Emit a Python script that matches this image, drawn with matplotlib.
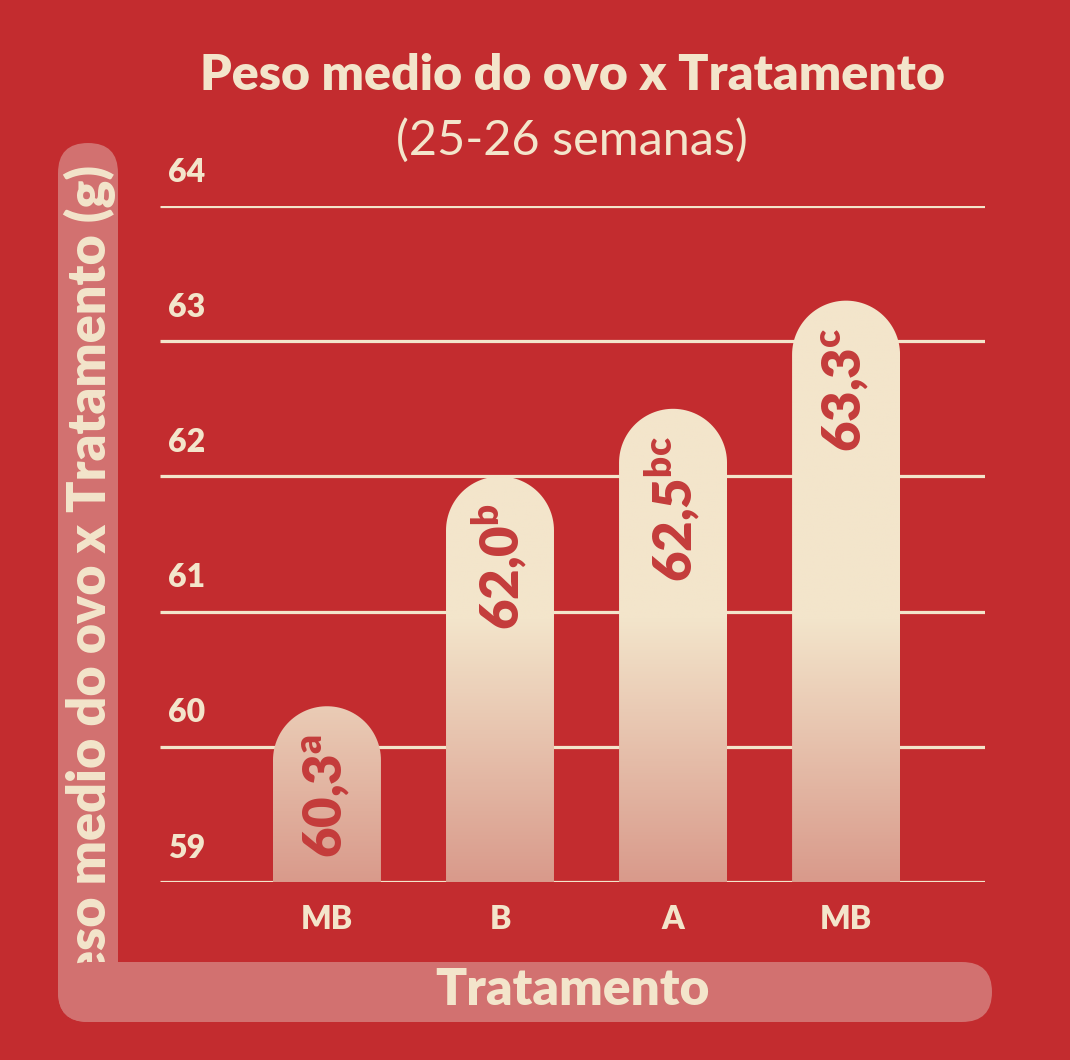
import numpy as np
import matplotlib
matplotlib.use('Agg')
import matplotlib.pyplot as plt
from matplotlib.patches import FancyBboxPatch, PathPatch
from matplotlib.path import Path
from matplotlib.colors import LinearSegmentedColormap

plt.rcParams['font.family'] = ['Lato', 'DejaVu Sans']
plt.rcParams['mathtext.default'] = 'regular'

# data
tratamentos = ['MB', 'B', 'A', 'MB']
peso = [60.3, 62.0, 62.5, 63.3]
letras = ['a', 'b', 'bc', 'c']
yticks = [59, 60, 61, 62, 63, 64]

bg = '#C32C2F'
cream = '#F3E5CB'
band = '#D27170'
txt_red = '#C43C3B'
pink = '#D99A8B'

W, H = 1070, 1060
fig = plt.figure(figsize=(W / 100, H / 100), dpi=100)
fig.patch.set_facecolor(bg)

# pixel canvas for the decorations (L-shaped band, axis titles)
deco = fig.add_axes([0, 0, 1, 1], zorder=0)
deco.set_xlim(0, W)
deco.set_ylim(H, 0)
deco.axis('off')

deco.add_patch(FancyBboxPatch((58, 143), 60, 879, boxstyle='round,pad=0,rounding_size=30',
                              fc=band, ec='none', zorder=1))
deco.add_patch(FancyBboxPatch((58, 962), 934, 60, boxstyle='round,pad=0,rounding_size=30',
                              fc=band, ec='none', zorder=5))
deco.text(90, 165, 'Peso medio do ovo x Tratamento (g)', rotation=90, rotation_mode='anchor',
          ha='right', va='center', fontsize=37.5, fontweight='heavy', color=cream, zorder=3)
deco.text(572, 990, 'Tratamento', ha='center', va='center', fontsize=37,
          fontweight='heavy', color=cream, zorder=6)
deco.text(572, 75, 'Peso medio do ovo x Tratamento', ha='center', va='center', fontsize=36,
          fontweight='heavy', color=cream)
deco.text(572, 140, '(25-26 semanas)', ha='center', va='center', fontsize=35,
          fontweight='normal', color=cream)

# main plot area
x0, x1 = -0.965, 3.803
y0, y1 = 59, 64
ax = fig.add_axes([160 / W, 1 - 882 / H, 825 / W, 676 / H], zorder=2)
ax.axis('off')

ax.hlines(yticks, x0, x1, color=cream, lw=2.3, zorder=1)
for t in yticks:
    ax.text(x0 + 0.045, t + 0.25, str(t), ha='left', va='center', fontsize=23,
            fontweight='heavy', color=cream)

for i, lbl in enumerate(tratamentos):
    ax.text(i, y0 - 0.28, lbl, ha='center', va='center', fontsize=23,
            fontweight='heavy', color=cream)

# bars with rounded tops and a vertical gradient
cmap = LinearSegmentedColormap.from_list('egg', [pink, cream])
px_x = 825 / (x1 - x0)
px_y = 676 / (y1 - y0)
rx = 0.312
ry = rx * px_x / px_y
for i, (v, let) in enumerate(zip(peso, letras)):
    t = np.linspace(np.pi, 0, 60)
    xs = np.concatenate([[i - rx], i + rx * np.cos(t), [i + rx, i - rx]])
    ys = np.concatenate([[y0], v - ry + ry * np.sin(t), [y0, y0]])
    patch = PathPatch(Path(np.column_stack([xs, ys])), fc='none', ec='none')
    ax.add_patch(patch)
    yy = np.linspace(y0, v, 200)
    frac = np.clip((yy - y0) / (60.95 - y0), 0, 1)
    im = ax.imshow(frac[:, None], extent=[i - rx, i + rx, y0, v], origin='lower',
                   cmap=cmap, vmin=0, vmax=1, aspect='auto', zorder=2)
    im.set_clip_path(patch)
    num = f'{v:.1f}'.replace('.', ',')
    ax.text(i, v - 0.2, num + '$^{' + let + '}$', rotation=90, rotation_mode='anchor',
            ha='right', va='center', fontsize=38, fontweight='heavy', color=txt_red, zorder=3)

ax.set_xlim(x0, x1)
ax.set_ylim(y0, y1)

fig.savefig('out.png', dpi=100, facecolor=bg)
